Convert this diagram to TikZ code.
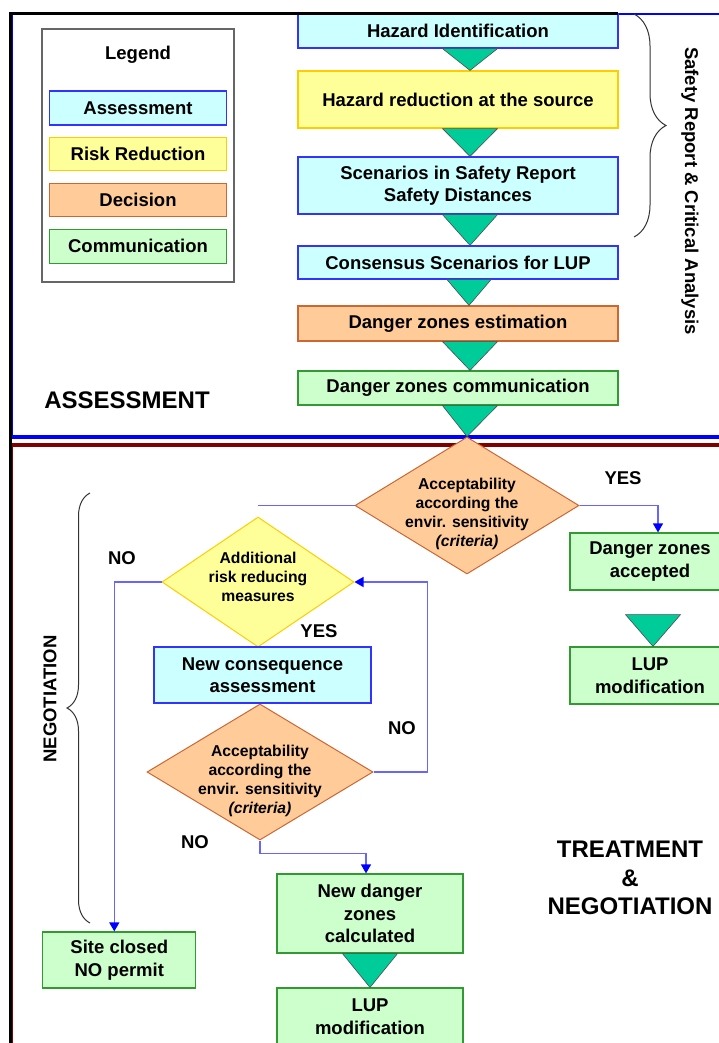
\documentclass[tikz,border=0pt]{standalone}
\usepackage{fontspec}
\setmainfont{Liberation Sans}
\usetikzlibrary{shapes.geometric,positioning,calc,arrows.meta,decorations.pathreplacing}

\definecolor{assessfill}{HTML}{CCFFFF}
\definecolor{assessline}{HTML}{3333FF}
\definecolor{reducefill}{HTML}{FFFF99}
\definecolor{reduceline}{HTML}{FFCC00}
\definecolor{decisionfill}{HTML}{FFCC99}
\definecolor{decisionline}{HTML}{CC6633}
\definecolor{commfill}{HTML}{CCFFCC}
\definecolor{commline}{HTML}{339933}
\definecolor{trifill}{HTML}{00CC99}
\definecolor{linkblue}{HTML}{6666FF}
\definecolor{panelred}{HTML}{800000}

\tikzset{
  flowbox/.style={draw, line width=1.2pt, align=center, inner sep=0pt,
    font=\bfseries\fontsize{18.5}{22.5}\selectfont},
  assessbox/.style={flowbox, draw=assessline, fill=assessfill},
  reducebox/.style={flowbox, draw=reduceline, fill=reducefill},
  decisionbox/.style={flowbox, draw=decisionline, fill=decisionfill},
  commbox/.style={flowbox, draw=commline, fill=commfill},
  choice/.style={diamond, draw, line width=1pt, inner sep=0pt},
  dtext/.style={align=center, font=\bfseries\fontsize{15.7}{19}\selectfont},
  answer/.style={font=\bfseries\fontsize{18.5}{22.5}\selectfont},
  paneltitle/.style={align=center, font=\bfseries\fontsize{24}{28.5}\selectfont},
  plainlink/.style={draw=linkblue, line width=1.2pt},
  flowlink/.style={plainlink, -{Triangle[width=10pt,length=9pt,color=blue]}},
  flowtri/.style={fill=trifill, draw=black!70, line width=0.6pt},
  sidebrace/.style={draw=black!80, line width=1pt, decorate},
}

% triangle from a top centre point down to an apex
\newcommand{\flowtri}[3][27.5]{%
  \filldraw[flowtri] #2 ++(-#1,0) -- ++(2*#1,0) -- #3 -- cycle;}

\begin{document}
\begin{tikzpicture}[x=1pt, y=-1pt]
\useasboundingbox (0,0) rectangle (719,1043);
\clip (0,0) rectangle (719,1043);

% panels
\draw[blue, line width=2pt] (12.3,14.5) -- (730,14.5);
\draw[blue, line width=1.5pt] (12.3,14.5) -- (12.3,437);
\draw[blue, line width=4pt] (12,437) -- (730,437);
\draw[panelred, line width=3.5pt] (12,445) -- (730,445);
\draw[panelred, line width=1.5pt] (12.3,445) -- (12.3,1050);

% legend
\node[draw=black!60, line width=1.2pt, minimum width=192pt, minimum height=253pt] (legend) at (138,155.5) {};
\node[answer] (legendtitle) at (138,55) {Legend};
\node[assessbox, minimum width=177pt, minimum height=34pt] (legassess) at (138,108) {Assessment};
\node[reducebox, minimum width=177pt, minimum height=33pt, below=11.5pt of legassess] (legreduce) {Risk Reduction};
\node[decisionbox, minimum width=177pt, minimum height=33pt, below=11.5pt of legreduce] (legdecision) {Decision};
\node[commbox, minimum width=177pt, minimum height=34pt, below=11.5pt of legdecision] (legcomm) {Communication};

\node[paneltitle] (assesstitle) at (127,400) {ASSESSMENT};

% assessment column
\node[assessbox, minimum width=320pt, minimum height=34pt] (hazid) at (458,31) {Hazard Identification};
\node[reducebox, minimum width=320pt, minimum height=57pt] (hazred) at (458,99.5) {Hazard reduction at the source};
\node[assessbox, minimum width=320pt, minimum height=57pt] (scenario) at (458,185.5) {Scenarios in Safety Report\\Safety Distances};
\node[assessbox, minimum width=320pt, minimum height=33pt] (consensus) at (458,262.5) {Consensus Scenarios for LUP};
\node[decisionbox, minimum width=320pt, minimum height=35pt] (estimation) at (458,323.5) {Danger zones estimation};
\node[commbox, minimum width=320pt, minimum height=34pt] (zonecomm) at (458,388) {Danger zones communication};

\draw[sidebrace, decoration={brace, amplitude=32pt}] (634,14) -- (634,237);
\node[answer, rotate=-90] (safetyreport) at (690,191) {Safety Report \& Critical Analysis};

% treatment and negotiation
\node[choice, draw=decisionline, fill=decisionfill, minimum width=224pt, minimum height=137pt,
  label={[dtext, yshift=-8pt]center:Acceptability\\according the\\envir. sensitivity\\\textit{(criteria)}}] (accept1) at (467,505.5) {};
\node[choice, draw=reduceline, fill=reducefill, minimum width=192pt, minimum height=130pt,
  label={[dtext, yshift=5pt]center:Additional\\risk reducing\\measures}] (addrisk) at (258,582) {};
\node[assessbox, minimum width=217pt, minimum height=56pt] (newcons) at (262.5,675) {New consequence\\assessment};
\node[choice, draw=decisionline, fill=decisionfill, minimum width=226pt, minimum height=136pt,
  label={[dtext, yshift=-9pt]center:Acceptability\\according the\\envir. sensitivity\\\textit{(criteria)}}] (accept2) at (260,772) {};

\node[commbox, minimum width=160pt, minimum height=57pt] (accepted) at (650,561.5) {Danger zones\\accepted};
\node[commbox, minimum width=160pt, minimum height=57pt] (lupright) at (650,675.5) {LUP\\modification};
\node[commbox, minimum width=153pt, minimum height=56pt] (siteclosed) at (119.3,960) {Site closed\\NO permit};
\node[commbox, minimum width=186pt, minimum height=79pt] (newzones) at (370,913.5) {New danger\\zones\\calculated};
\node[commbox, minimum width=186pt, minimum height=57pt] (lupbottom) at (370,1016.5) {LUP\\modification};

\node[answer] (yes1) at (623,478) {YES};
\node[answer] (no1) at (122,558) {NO};
\node[answer] (yes2) at (319,631) {YES};
\node[answer] (no2) at (402,728) {NO};
\node[answer] (no3) at (195,842) {NO};

\node[paneltitle] (treattitle) at (630,878) {TREATMENT\\\&\\NEGOTIATION};
\node[answer, rotate=90] (negotitle) at (50,699) {NEGOTIATION};
\draw[sidebrace, decoration={brace, amplitude=23pt}] (90,923) -- (90,493);

% connectors
\draw[plainlink] (accept1.west) -- (accept1.west -| addrisk.north);
\draw[flowlink] (accept1.east) -| ([xshift=8pt]accepted.north);
\draw[flowlink] (addrisk.west) -| ([xshift=-5pt]siteclosed.north);
\draw[flowlink] (accept2.east) -- ++(54,0) |- (addrisk.east);
\draw[flowlink] (accept2.south) -- ++(0,13) -| ([xshift=-4pt]newzones.north);

% flow triangles
\flowtri{($(hazid.south)+(12,0)$)}{($(hazred.north)+(12,0)$)}
\flowtri{($(hazred.south)+(12,0)$)}{($(scenario.north)+(12,0)$)}
\flowtri{($(scenario.south)+(12,0)$)}{($(consensus.north)+(12,0)$)}
\flowtri[22]{($(consensus.south)+(11,0)$)}{($(estimation.north)+(11,0)$)}
\flowtri{($(estimation.south)+(12,0)$)}{($(zonecomm.north)+(12,0)$)}
\flowtri{($(zonecomm.south)+(12,0)$)}{(accept1.north)}
\flowtri{($(accepted.south)+(3,24)$)}{($(lupright.north)+(3,0)$)}
\flowtri{(newzones.south)}{(lupbottom.north)}

% outer border
\draw[line width=2.5pt] (10.3,1050) -- (10.3,13.5) -- (618,13.5);
\end{tikzpicture}
\end{document}
